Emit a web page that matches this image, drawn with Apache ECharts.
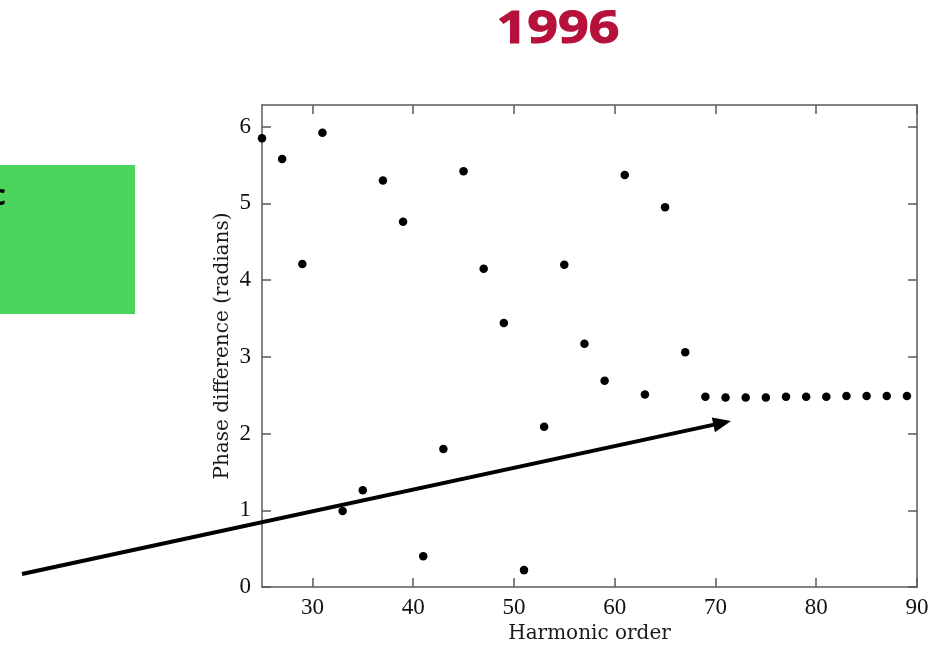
<!DOCTYPE html>
<html>
<head>
<meta charset="utf-8">
<style>
  html, body { margin: 0; padding: 0; background: #ffffff; }
  #chart { width: 949px; height: 645px; }
</style>
<script src="https://cdn.jsdelivr.net/npm/echarts@6/dist/echarts.min.js"></script>
</head>
<body>
<div id="chart"></div>
<script>
// Harmonic orders (odd harmonics 25..89)
const harmonicOrders = [25, 27, 29, 31, 33, 35, 37, 39, 41, 43, 45, 47, 49, 51, 53, 55, 57,
  59, 61, 63, 65, 67, 69, 71, 73, 75, 77, 79, 81, 83, 85, 87, 89];
// Phase difference between consecutive harmonics (radians)
const phaseDiff = [5.85, 5.58, 4.21, 5.92, 0.99, 1.26, 5.30, 4.76, 0.40, 1.80, 5.42, 4.15, 3.44,
  0.22, 2.09, 4.20, 3.17, 2.69, 5.37, 2.51, 4.95, 3.06, 2.48, 2.47, 2.47, 2.47, 2.48, 2.48,
  2.48, 2.49, 2.49, 2.49, 2.49];
// Tick positions
const xTicks = [30, 40, 50, 60, 70, 80, 90];
const yTicks = [0, 1, 2, 3, 4, 5, 6];
const xRange = [25, 90];
const yRange = [0, 2 * Math.PI];

const points = harmonicOrders.map((h, i) => [h, phaseDiff[i]]);

const chart = echarts.init(document.getElementById('chart'), null, { renderer: 'canvas' });

const frameColor = '#5a5a5a';
const tickFont = { fontFamily: 'Liberation Serif', fontSize: 23, color: '#111' };

function frameAxis(extra) {
  return Object.assign({
    type: 'value',
    axisLine: { show: true, onZero: false, lineStyle: { color: frameColor, width: 1.5 } },
    axisTick: { show: true, inside: true, length: 9, lineStyle: { color: frameColor, width: 1.5 } },
    splitLine: { show: false },
    axisLabel: { show: false }
  }, extra);
}

const grid = { left: 262, right: 32, top: 105, bottom: 58, outerBoundsMode: 'none', containLabel: false };

chart.setOption({
  animation: false,
  backgroundColor: '#ffffff',
  grid: grid,
  xAxis: [
    frameAxis({
      position: 'bottom', min: xRange[0], max: xRange[1],
      axisTick: { show: true, inside: true, length: 9, customValues: xTicks, lineStyle: { color: frameColor, width: 1.5 } },
      axisLabel: Object.assign({ show: true, margin: 9, customValues: xTicks }, tickFont),
      name: 'Harmonic order', nameLocation: 'middle', nameGap: 32,
      nameTextStyle: { fontFamily: 'DejaVu Serif', fontSize: 20, color: '#1a1a1a' }
    }),
    frameAxis({
      position: 'top', min: xRange[0], max: xRange[1],
      axisTick: { show: true, inside: true, length: 9, customValues: xTicks, lineStyle: { color: frameColor, width: 1.5 } }
    })
  ],
  yAxis: [
    frameAxis({
      position: 'left', min: yRange[0], max: yRange[1],
      axisTick: { show: true, inside: true, length: 9, customValues: yTicks, lineStyle: { color: frameColor, width: 1.5 } },
      axisLabel: Object.assign({ show: true, margin: 11, customValues: yTicks }, tickFont),
      name: 'Phase difference (radians)', nameLocation: 'middle', nameGap: 29, nameRotate: 90,
      nameMoveOverlap: false,
      nameTextStyle: { fontFamily: 'DejaVu Serif', fontSize: 20, color: '#1a1a1a' }
    }),
    frameAxis({
      position: 'right', min: yRange[0], max: yRange[1],
      axisTick: { show: true, inside: true, length: 9, customValues: yTicks, lineStyle: { color: frameColor, width: 1.5 } }
    })
  ],
  series: [{
    type: 'scatter',
    xAxisIndex: 0,
    yAxisIndex: 0,
    data: points,
    symbol: 'circle',
    symbolSize: 8.5,
    itemStyle: { color: '#000000', opacity: 1 },
    clip: false
  }]
});

// Overlay: title, side panel and annotation arrow
const arrowFrom = [22, 574];
const arrowTo = [731, 421];
const headLen = 18, headHalf = 7.5;
const dx = arrowTo[0] - arrowFrom[0], dy = arrowTo[1] - arrowFrom[1];
const len = Math.hypot(dx, dy);
const ux = dx / len, uy = dy / len;
const bx = arrowTo[0] - ux * headLen, by = arrowTo[1] - uy * headLen;

chart.setOption({
  graphic: [
    {
      type: 'rect', left: 0, top: 165,
      shape: { width: 135, height: 149 },
      style: { fill: '#4cd55e' }, z: 10
    },
    {
      type: 'text', x: -9, y: 211,
      style: { text: 'c', font: 'bold 29px "Open Sans"', fill: '#000', textVerticalAlign: 'bottom' },
      z: 11
    },
    {
      type: 'text', x: 558, y: 30, scaleX: 1.22, scaleY: 1,
      style: {
        text: '1996', font: 'bold 44px "Open Sans"', fill: '#b5113a',
        stroke: '#b5113a', lineWidth: 1,
        textAlign: 'center', textVerticalAlign: 'middle'
      },
      z: 11
    },
    {
      type: 'line',
      shape: { x1: arrowFrom[0], y1: arrowFrom[1], x2: bx + ux * 2, y2: by + uy * 2 },
      style: { stroke: '#000', lineWidth: 4 }, z: 12
    },
    {
      type: 'polygon',
      shape: { points: [arrowTo, [bx - uy * headHalf, by + ux * headHalf], [bx + uy * headHalf, by - ux * headHalf]] },
      style: { fill: '#000' }, z: 12
    }
  ]
});
</script>
</body>
</html>
